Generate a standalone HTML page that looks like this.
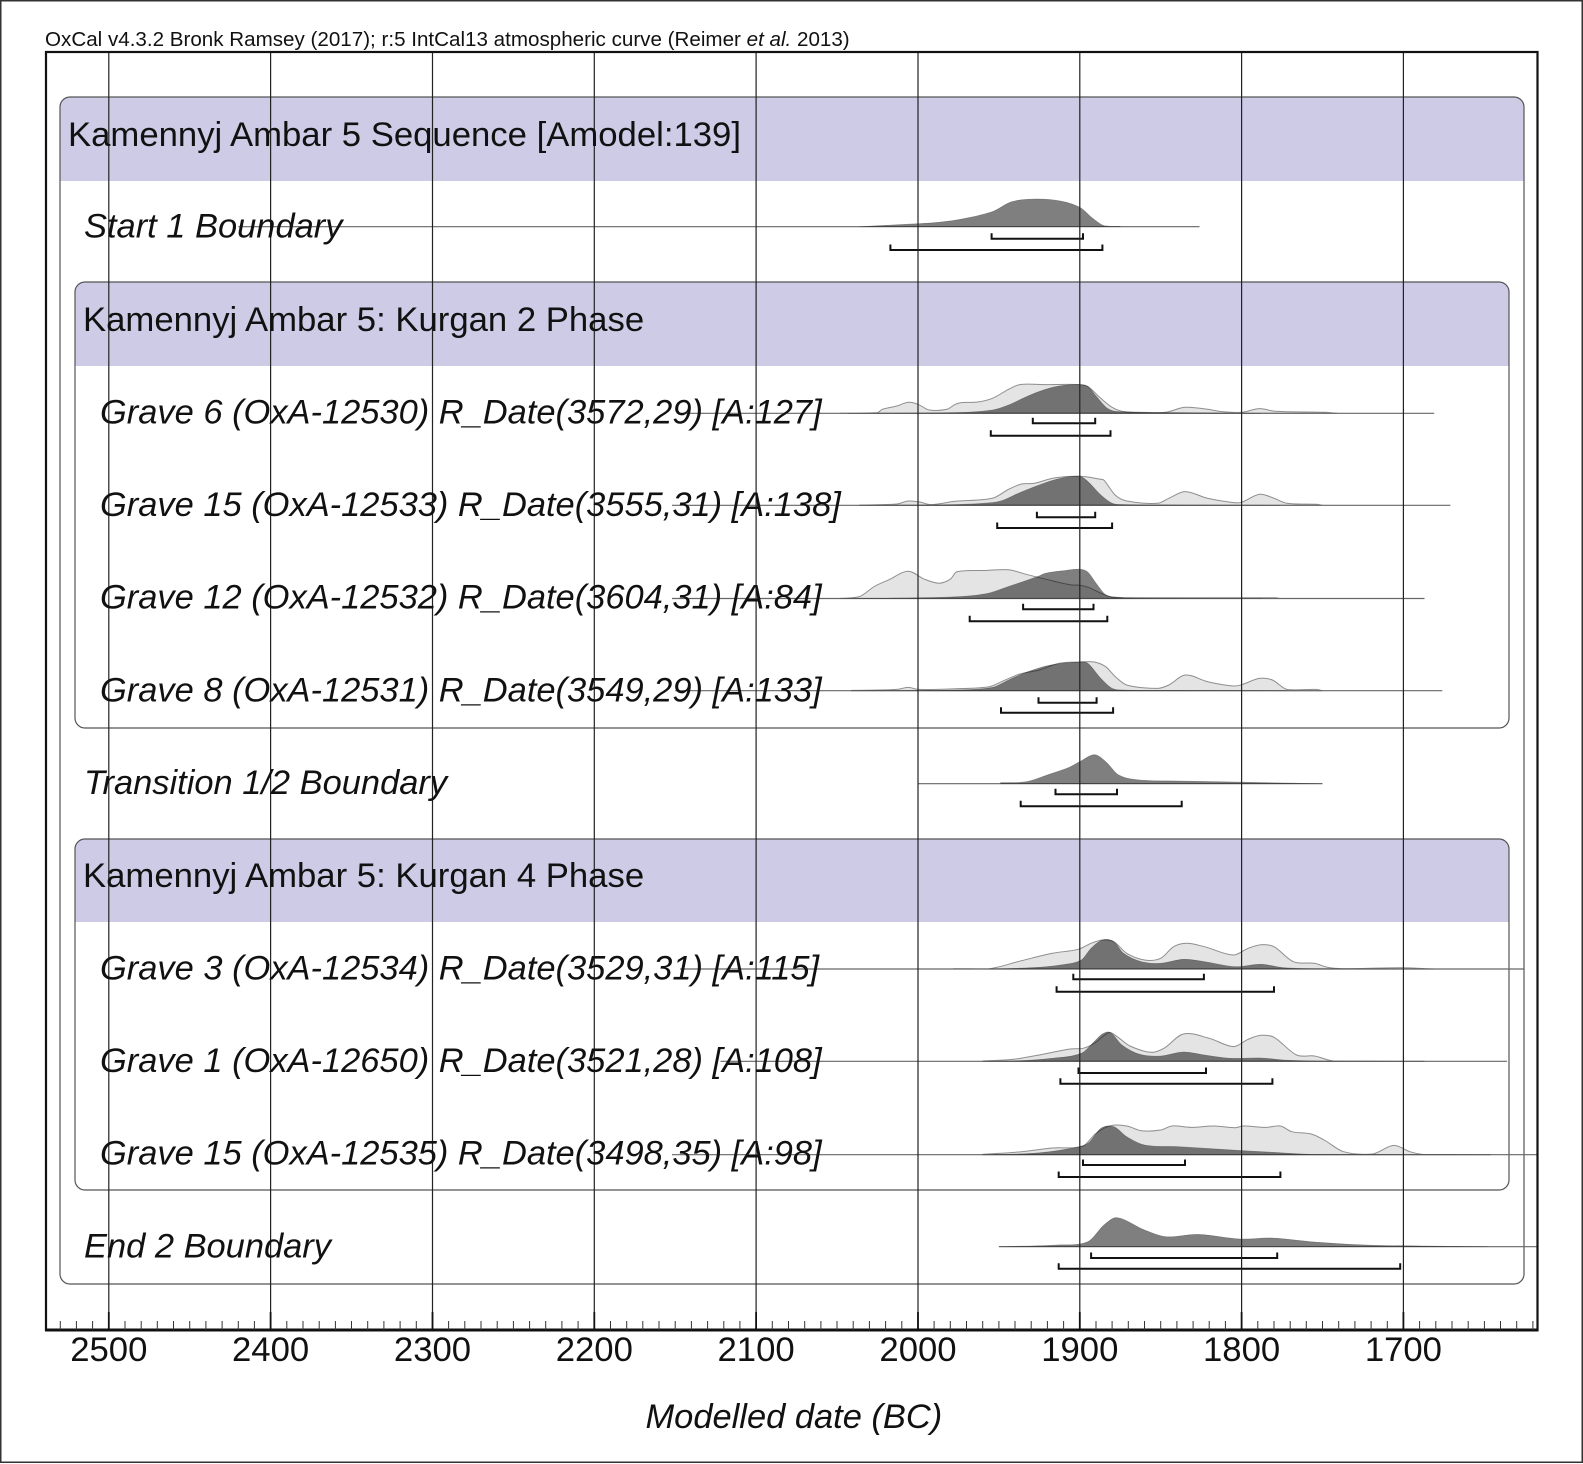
<!DOCTYPE html>
<html lang="en">
<head>
<meta charset="utf-8">
<title>Kamennyj Ambar 5 Sequence</title>
<style>
html,body{margin:0;padding:0;background:#fff}
svg{display:block}
text{font-family:"Liberation Sans",Arial,sans-serif;fill:#111}
.hd{font-size:34.7px}
.lb{font-size:34.45px;font-style:italic}
.tk{font-size:34.7px;text-anchor:middle}
</style>
</head>
<body>
<svg id="chart" xmlns="http://www.w3.org/2000/svg" width="1583" height="1464" viewBox="0 0 1583 1464">
  <defs><clipPath id="frameClip"><rect x="46" y="52" width="1491.5" height="1278"/></clipPath></defs>
  <rect x="0.75" y="0.75" width="1581.5" height="1461.5" fill="#fff" stroke="#333" stroke-width="1.5"/>
  <text x="45" y="46" font-size="20.6">OxCal v4.3.2 Bronk Ramsey (2017); r:5 IntCal13 atmospheric curve (Reimer <tspan font-style="italic">et al.</tspan> 2013)</text>

  <g>
    <path d="M60 181V107a10 10 0 0 1 10-10H1514a10 10 0 0 1 10 10V181Z" fill="#cdcbe6"/>
    <rect x="60" y="97" width="1464" height="1187" rx="10" fill="none" stroke="#555" stroke-width="1.2"/>
  </g>
  <g>
    <path d="M75 366V292a10 10 0 0 1 10-10H1499a10 10 0 0 1 10 10V366Z" fill="#cdcbe6"/>
    <rect x="75" y="282" width="1434" height="446" rx="10" fill="none" stroke="#555" stroke-width="1.2"/>
  </g>
  <g>
    <path d="M75 922V849a10 10 0 0 1 10-10H1499a10 10 0 0 1 10 10V922Z" fill="#cdcbe6"/>
    <rect x="75" y="839" width="1434" height="351" rx="10" fill="none" stroke="#555" stroke-width="1.2"/>
  </g>

  <g id="marks" clip-path="url(#frameClip)"></g>
  <g id="grid"></g>

  <rect x="46" y="52" width="1491.5" height="1278" fill="none" stroke="#111" stroke-width="2.2"/>
  <line x1="45" x2="1538.5" y1="1330" y2="1330" stroke="#111" stroke-width="3"/>
  <g id="ticks"></g>

  <text class="hd" x="68" y="146">Kamennyj Ambar 5 Sequence [Amodel:139]</text>
  <text class="lb" x="84" y="237.5">Start 1 Boundary</text>
  <text class="hd" x="83" y="331">Kamennyj Ambar 5: Kurgan 2 Phase</text>
  <text class="lb" x="100" y="423.5">Grave 6 (OxA-12530) R_Date(3572,29) [A:127]</text>
  <text class="lb" x="100" y="516">Grave 15 (OxA-12533) R_Date(3555,31) [A:138]</text>
  <text class="lb" x="100" y="608.5">Grave 12 (OxA-12532) R_Date(3604,31) [A:84]</text>
  <text class="lb" x="100" y="701.5">Grave 8 (OxA-12531) R_Date(3549,29) [A:133]</text>
  <text class="lb" x="84" y="794">Transition 1/2 Boundary</text>
  <text class="hd" x="83" y="887">Kamennyj Ambar 5: Kurgan 4 Phase</text>
  <text class="lb" x="100" y="979.5">Grave 3 (OxA-12534) R_Date(3529,31) [A:115]</text>
  <text class="lb" x="100" y="1072">Grave 1 (OxA-12650) R_Date(3521,28) [A:108]</text>
  <text class="lb" x="100" y="1164.5">Grave 15 (OxA-12535) R_Date(3498,35) [A:98]</text>
  <text class="lb" x="84" y="1257.5">End 2 Boundary</text>
  <g id="tickLabels"></g>
  <text class="lb" x="645.5" y="1428">Modelled date (BC)</text>
</svg>
<script>
const tickYears = [2500,2400,2300,2200,2100,2000,1900,1800,1700];

const startPostYears = [2036,2000,1988,1974,1954,1942,1927,1912,1900,1892,1885,1875];
const startPostDensity = [0,3,4.3,7.3,15,25,27.7,25.7,19.3,8.3,1,0.3];
const startRange68 = [1954.5,1898];
const startRange95 = [2017,1886];
const startExtent = [2420,1826];

const grave6PriorYears = [2048,2025,2022,2013,2006,2000,1993,1982,1977,1973,1963,1954,1944,1937,1921,1900,1895,1887,1880,1873,1861,1847,1835,1821,1812,1800,1789,1779,1749,1741];
const grave6PriorDensity = [0,0.7,4,7.3,11,9,3.3,4,9,10.7,11.3,15,24,28.7,28.7,28.7,26.7,15,6,1.7,0.7,1,6,4,1.7,1,4.7,2,1,0];
const grave6PostYears = [2043,1977,1954,1944,1932,1921,1911,1900,1895,1890,1883,1876,1788];
const grave6PostDensity = [0,0.7,3.3,8.3,17.3,24,27.7,28.7,26.7,17.3,5,1.7,0];
const grave6Range68 = [1929,1890.5];
const grave6Range95 = [1955,1881];
const grave6Extent = [2147,1681];

const grave15aPriorYears = [2036,2013,2006,1999,1992,1977,1954,1944,1936,1928,1916,1900,1887,1885,1878,1871,1852,1845,1835,1821,1805,1800,1789,1781,1772,1754,1750];
const grave15aPriorDensity = [0.3,1.3,4.3,3.3,0.7,4,7,16,21.3,22,27.3,29,26,25,10,4.3,2,7,13.7,7,2.7,3,11,7.7,2,1,0];
const grave15aPostYears = [2036,1977,1954,1947,1937,1921,1911,1900,1895,1887,1880,1873,1840,1776];
const grave15aPostDensity = [0,0.7,2.7,5.3,12.7,22.7,27.3,29,23.7,10.3,2,0.7,0.3,0];
const grave15aRange68 = [1926.5,1890.5];
const grave15aRange95 = [1951,1880];
const grave15aExtent = [2152,1671];

const grave12PriorYears = [2048,2036,2027,2018,2006,1996,1987,1980,1976,1958,1944,1932,1921,1906,1900,1895,1887,1880,1869,1779,1776];
const grave12PriorDensity = [0,2,12,18.7,27.3,19.3,15.3,19.3,26.7,28,28.7,23.7,19.3,13.7,13.3,11.3,5.3,1.3,0.7,0.7,0];
const grave12PostYears = [2048,1982,1958,1944,1926,1921,1909,1900,1895,1890,1884,1876,1859,1787];
const grave12PostDensity = [0,1.3,4.7,12,22,25.3,28,29.3,26.3,15.3,3.7,1.3,0.3,0];
const grave12Range68 = [1935,1891.5];
const grave12Range95 = [1968,1883];
const grave12Extent = [2152,1687];

const grave8PriorYears = [2041,2013,2006,2000,1977,1956,1947,1937,1925,1913,1900,1891,1884,1878,1871,1852,1845,1835,1821,1805,1800,1789,1781,1772,1754,1750];
const grave8PriorDensity = [0.3,1.3,3.3,1.3,2,4,10,16.7,20.7,27.3,28.7,28.7,24,14,5.7,2.3,5.7,15.7,9,4.7,6,12.3,10.7,1.3,1.3,0];
const grave8PostYears = [2041,1977,1954,1944,1932,1918,1900,1895,1887,1880,1873,1840,1772];
const grave8PostDensity = [0,0.7,3.3,10.7,19,25.7,28.7,27.3,12.3,2.3,0.7,0.3,0];
const grave8Range68 = [1925.5,1889.6];
const grave8Range95 = [1948.7,1879.4];
const grave8Extent = [2150,1676];

const transitionPostYears = [1949,1933,1919,1907,1900,1891,1884,1876,1863,1839,1784,1750];
const transitionPostDensity = [1,2,9.3,16,22,29,22,8.7,3.7,2.7,1,0];
const transitionRange68 = [1915,1877];
const transitionRange95 = [1936.5,1837];
const transitionExtent = [2000,1750];

const grave3PriorYears = [1978,1956,1936,1917,1901,1893,1886,1879,1871,1860,1850,1842,1834,1823,1805,1796,1788,1780,1768,1755,1747,1738,1702,1681];
const grave3PriorDensity = [0.3,0.3,8.3,15.7,19.7,25.7,29,27.3,15.7,9,10.7,22.3,25.7,22.3,14,20.7,24.3,22.3,7.3,5.7,1.7,0.3,1.3,0];
const grave3PostYears = [1956,1930,1912,1899,1893,1886,1879,1873,1862,1850,1836,1823,1804,1788,1774,1753,1681];
const grave3PostDensity = [0,1.3,4,9,20.7,29,27.3,15.7,7.3,5.7,9.7,7.3,2.3,4.7,1.3,0.3,0];
const grave3Range68 = [1904,1823.3];
const grave3Range95 = [1914.3,1780];
const grave3Extent = [2147,1625.6];

const grave1PriorYears = [1960,1941,1922,1906,1898,1891,1882,1877,1869,1856,1848,1836,1820,1805,1796,1788,1780,1766,1755,1743,1687];
const grave1PriorDensity = [0.3,2,7.3,12.3,13,18,28.7,24.7,15.3,9,13,27.3,23,14.7,22,26,24,6.3,5.3,0.3,0];
const grave1PostYears = [1960,1936,1917,1899,1891,1886,1881,1874,1863,1850,1836,1823,1807,1788,1774,1753,1687];
const grave1PostDensity = [0,0.7,3,8,19.7,27.3,28.7,16.3,7,5.3,9.3,6.3,3,3.3,1.3,0.3,0];
const grave1Range68 = [1900.8,1822];
const grave1Range95 = [1912,1781];
const grave1Extent = [2122,1636];

const grave15bPriorYears = [1960,1936,1917,1898,1890,1881,1871,1862,1850,1843,1831,1817,1804,1799,1785,1776,1769,1757,1749,1737,1719,1706,1696,1688,1646];
const grave15bPriorDensity = [0.3,3,6.7,8.7,21.3,29,28.7,24,24.7,28.7,27.3,28.7,27,28.7,27.3,28.7,23,20.7,14.7,3,0.7,9.3,3,0.3,0];
const grave15bPostYears = [1960,1930,1909,1895,1887,1879,1871,1860,1839,1812,1780,1755,1646];
const grave15bPostDensity = [0,1.3,5.3,11.3,26.3,28,18,9.7,8,5.3,2.3,0.3,0];
const grave15bRange68 = [1898,1835];
const grave15bRange95 = [1913,1776];
const grave15bExtent = [2152,1600];

const endPostYears = [1950,1914,1895,1885,1877,1860,1847,1827,1801,1781,1755,1723,1688,1648];
const endPostDensity = [0,1.7,5,21.7,29,16.7,10,12.3,7.7,8.7,4.7,1.7,0.7,0];
const endRange68 = [1893,1778];
const endRange95 = [1913,1702];
const endExtent = [1950,1600];

const NS = 'http://www.w3.org/2000/svg';
const xScale = year => 108.8 + (2500 - year) * 1.6183;
const yScale = (baseline, density) => baseline - density;

function mk(tag, parent, props) {
  const node = document.createElementNS(NS, tag);
  for (const k in props) node.setAttribute(k, props[k]);
  parent.appendChild(node);
  return node;
}

function areaPath(years, density, baseline) {
  const pts = years.map((y, i) => [xScale(y), yScale(baseline, density[i])]);
  let d = 'M' + pts[0][0].toFixed(1) + ' ' + baseline + 'L' + pts[0][0].toFixed(1) + ' ' + pts[0][1].toFixed(1);
  for (let i = 0; i < pts.length - 1; i++) {
    const p0 = pts[Math.max(i - 1, 0)], p1 = pts[i], p2 = pts[i + 1], p3 = pts[Math.min(i + 2, pts.length - 1)];
    const span = p2[0] - p1[0];
    let m1 = (p2[1] - p0[1]) / Math.max(p2[0] - p0[0], 1);
    let m2 = (p3[1] - p1[1]) / Math.max(p3[0] - p1[0], 1);
    const c1y = Math.min(baseline, p1[1] + m1 * span / 3);
    const c2y = Math.min(baseline, p2[1] - m2 * span / 3);
    d += 'C' + (p1[0] + span / 3).toFixed(1) + ' ' + c1y.toFixed(1) + ' ' + (p2[0] - span / 3).toFixed(1) + ' ' + c2y.toFixed(1) + ' ' + p2[0].toFixed(1) + ' ' + p2[1].toFixed(1);
  }
  d += 'L' + pts[pts.length - 1][0].toFixed(1) + ' ' + baseline + 'Z';
  return d;
}

function drawBracket(parent, range, barY, name) {
  const x1 = xScale(range[0]), x2 = xScale(range[1]);
  const el = mk('path', parent, {d: 'M' + x1.toFixed(1) + ' ' + (barY - 5.5) + 'V' + barY + 'H' + x2.toFixed(1) + 'V' + (barY - 5.5), fill: 'none', stroke: '#111', 'stroke-width': 2});
  
  
}

function drawRow(name, baseline, extent, priorYears, priorDensity, postYears, postDensity, range68, y68, range95, y95) {
  const marks = document.getElementById('marks');
  const g = mk('g', marks, {});
  
  

  if (priorYears) {
    const prior = mk('path', g, {d: areaPath(priorYears, priorDensity, baseline), fill: '#e4e4e4', stroke: '#8e8e8e', 'stroke-width': 1});
    
    
  }
  const line = mk('line', g, {x1: xScale(extent[0]).toFixed(1), x2: xScale(extent[1]).toFixed(1), y1: baseline, y2: baseline, stroke: '#666', 'stroke-width': 1.2});
  
  

  const post = mk('path', g, {d: areaPath(postYears, postDensity, baseline), fill: 'rgba(0,0,0,0.5)', stroke: 'rgba(60,60,60,0.5)', 'stroke-width': 0.6});
  
  

  drawBracket(g, range68, y68, name + '-range-68');
  drawBracket(g, range95, y95, name + '-range-95');
}

drawRow('start', 226.7, startExtent, null, null, startPostYears, startPostDensity, startRange68, 238.7, startRange95, 250);
drawRow('grave-6', 413.3, grave6Extent, grave6PriorYears, grave6PriorDensity, grave6PostYears, grave6PostDensity, grave6Range68, 423.3, grave6Range95, 435.7);
drawRow('grave-15-a', 505.3, grave15aExtent, grave15aPriorYears, grave15aPriorDensity, grave15aPostYears, grave15aPostDensity, grave15aRange68, 517.3, grave15aRange95, 528);
drawRow('grave-12', 598.5, grave12Extent, grave12PriorYears, grave12PriorDensity, grave12PostYears, grave12PostDensity, grave12Range68, 609.3, grave12Range95, 621.3);
drawRow('grave-8', 690.7, grave8Extent, grave8PriorYears, grave8PriorDensity, grave8PostYears, grave8PostDensity, grave8Range68, 702.7, grave8Range95, 712.7);
drawRow('transition', 783.7, transitionExtent, null, null, transitionPostYears, transitionPostDensity, transitionRange68, 794.3, transitionRange95, 806.3);
drawRow('grave-3', 969, grave3Extent, grave3PriorYears, grave3PriorDensity, grave3PostYears, grave3PostDensity, grave3Range68, 979.3, grave3Range95, 991.7);
drawRow('grave-1', 1061.3, grave1Extent, grave1PriorYears, grave1PriorDensity, grave1PostYears, grave1PostDensity, grave1Range68, 1073, grave1Range95, 1083.7);
drawRow('grave-15-b', 1154.7, grave15bExtent, grave15bPriorYears, grave15bPriorDensity, grave15bPostYears, grave15bPostDensity, grave15bRange68, 1165, grave15bRange95, 1177);
drawRow('end', 1246.7, endExtent, null, null, endPostYears, endPostDensity, endRange68, 1258, endRange95, 1268.7);

const gridGroup = document.getElementById('grid');
const tickGroup = document.getElementById('ticks');
const labelGroup = document.getElementById('tickLabels');

tickYears.forEach(year => {
  const x = xScale(year).toFixed(1);
  const gl = mk('line', gridGroup, {x1: x, x2: x, y1: 52, y2: 1330, stroke: '#222', 'stroke-width': 1.2});
  
  
  const major = mk('line', tickGroup, {x1: x, x2: x, y1: 1312, y2: 1330, stroke: '#111', 'stroke-width': 1.8});
  
  
  const label = mk('text', labelGroup, {x: x, y: 1361, class: 'tk'});
  
  
  label.textContent = String(year);
});

for (let year = 2530; year >= 1620; year -= 10) {
  if (year % 100 === 0 && tickYears.includes(year)) continue;
  const x = xScale(year).toFixed(1);
  const minor = mk('line', tickGroup, {x1: x, x2: x, y1: 1321, y2: 1330, stroke: '#333', 'stroke-width': 1});
  
  
}
</script>
</body>
</html>
